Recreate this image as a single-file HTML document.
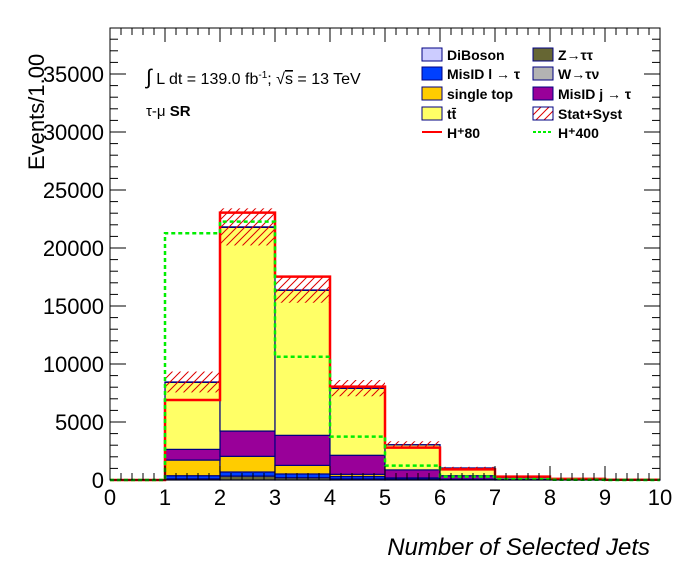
<!DOCTYPE html>
<html><head><meta charset="utf-8"><style>
body{margin:0;background:#fff;}
svg text{font-family:"Liberation Sans",sans-serif;}
</style></head><body>
<svg id="c" width="696" height="572" xmlns="http://www.w3.org/2000/svg">
<defs><pattern id="hatch" patternUnits="userSpaceOnUse" width="8" height="8"><path d="M0,8 L8,0 M-2,2 L2,-2 M6,10 L10,6" stroke="#d00" stroke-width="1"/></pattern></defs>
<g id="bars"></g><g id="axes"></g>
<text x="146" y="84" font-size="16"><tspan font-size="21">∫</tspan> L dt = 139.0 fb<tspan dy="-6" font-size="10">-1</tspan><tspan dy="6">;  √</tspan><tspan text-decoration="overline">s</tspan> = 13 TeV</text>
<text x="146" y="116" font-size="15">τ-μ <tspan font-weight="bold">SR</tspan></text>
<text transform="translate(44,170) rotate(-90)" font-size="22">Events/1.00</text>
<text x="650" y="555" font-size="24" font-style="italic" text-anchor="end">Number of Selected Jets</text>
<g id="legend"></g>
</svg>
<script>
const edges=[0,1,2,3,4,5,6,7,8,9,10];
const zTauTau=[0,100,340,200,100,50,20,5,0,0];
const misIdL=[0,270,350,320,200,50,20,5,0,0];
const singleTop=[0,1350,1350,740,190,80,30,10,0,0];
const misIdJ=[0,920,2180,2590,1640,690,300,60,10,0];
const ttbar=[0,5780,17560,12500,5770,2160,660,140,40,10];
const diboson=[0,30,40,30,20,10,5,0,0,0];
const statSyst=[0,900,1600,1100,700,300,100,30,10,0];
const hplus80=[0,6900,23050,17530,8050,2790,920,290,100,20];
const hplus400=[0,21270,22270,10630,3740,1240,290,80,20,5];
const xTicks=[0,1,2,3,4,5,6,7,8,9,10];
const yTicks=[0,5000,10000,15000,20000,25000,30000,35000];
const X0=110,X1=660,Y0=480,YT=28;
const xs=v=>X0+(X1-X0)*v/10;
const ys=v=>Y0-v*0.0116;
const NS="http://www.w3.org/2000/svg";
function mk(t,a,p){const e=document.createElementNS(NS,t);for(const k in a)e.setAttribute(k,a[k]);p.appendChild(e);return e;}
const bars=document.getElementById('bars'),axes=document.getElementById('axes'),leg=document.getElementById('legend');
const comps=[[zTauTau,'#666633','z-tautau'],[misIdL,'#0040ff','misid-l'],[singleTop,'#ffcc00','single-top'],[misIdJ,'#990099','misid-j'],[ttbar,'#ffff66','ttbar'],[diboson,'#ccccff','diboson']];
const cum=new Array(10).fill(0);
comps.forEach(([arr,col,nm])=>{
 for(let i=0;i<10;i++){const b=cum[i],t=b+arr[i];if(arr[i]>0){
  const r=mk('rect',{x:xs(edges[i]),y:ys(t),width:xs(edges[i+1])-xs(edges[i]),height:ys(b)-ys(t),fill:col,stroke:'#000080','stroke-width':1.2},bars);
  
  
 }cum[i]=t;}
});
for(let i=0;i<10;i++){if(statSyst[i]>0){
 const r=mk('rect',{x:xs(edges[i]),y:ys(cum[i]+statSyst[i]),width:xs(edges[i+1])-xs(edges[i]),height:ys(cum[i]-statSyst[i])-ys(cum[i]+statSyst[i]),fill:'url(#hatch)'},bars);
 
 
}}
function step(arr,col,dash,nm){let d='M'+xs(0)+','+ys(arr[0]);for(let i=0;i<10;i++){d+=' L'+xs(edges[i])+','+ys(arr[i])+' L'+xs(edges[i+1])+','+ys(arr[i]);}
 const p=mk('path',{d:d,fill:'none',stroke:col,'stroke-width':2.5,'stroke-dasharray':dash},bars);
 
 }
step(hplus80,'#ff0000','none','hplus80-line');
step(hplus400,'#00ee00','4,3','hplus400-line');
mk('rect',{x:X0,y:YT,width:X1-X0,height:Y0-YT,fill:'none',stroke:'#000','stroke-width':1},axes);
for(let v=0;v<=10.001;v+=0.2){const x=xs(v),maj=Math.abs(v-Math.round(v))<1e-6,l=maj?14:7;
 mk('line',{x1:x,x2:x,y1:Y0,y2:Y0-l,stroke:'#000'},axes);mk('line',{x1:x,x2:x,y1:YT,y2:YT+l,stroke:'#000'},axes);}
xTicks.forEach(v=>{const t=mk('text',{x:xs(v),y:505,'font-size':22,'text-anchor':'middle'},axes);t.textContent=v;
 
 });
for(let v=0;v<=38000;v+=1000){const y=ys(v),l=v%5000===0?16:8;
 mk('line',{x1:X0,x2:X0+l,y1:y,y2:y,stroke:'#000'},axes);mk('line',{x1:X1,x2:X1-l,y1:y,y2:y,stroke:'#000'},axes);}
yTicks.forEach(v=>{const t=mk('text',{x:104,y:ys(v)+8,'font-size':22,'text-anchor':'end'},axes);t.textContent=v;
 
 });
const legItems=[[422,54,'#ccccff','DiBoson'],[533,54,'#666633','Z→ττ'],[422,73,'#0040ff','MisID l → τ'],[533,73,'#b3b3b3','W→τν'],[422,93,'#ffcc00','single top'],[533,93,'#990099','MisID j → τ'],[422,113,'#ffff66','tt̄'],[533,113,'url(#hatch)','Stat+Syst']];
legItems.forEach(([x,y,c,l])=>{const r=mk('rect',{x:x,y:y-6,width:20,height:13,fill:c,stroke:'#000080'},leg);
 
 
 const t=mk('text',{x:x+25,y:y+6,'font-size':14,'font-weight':'bold'},leg);t.textContent=l;
 
 });
mk('line',{x1:422,x2:442,y1:132,y2:132,stroke:'#ff0000','stroke-width':2},leg);
mk('line',{x1:533,x2:553,y1:132,y2:132,stroke:'#00ee00','stroke-width':2,'stroke-dasharray':'3,2'},leg);
[[447,'H⁺80'],[558,'H⁺400']].forEach(([x,l])=>{const t=mk('text',{x:x,y:138,'font-size':14,'font-weight':'bold'},leg);t.textContent=l;
 
 });
</script>
</body></html>
